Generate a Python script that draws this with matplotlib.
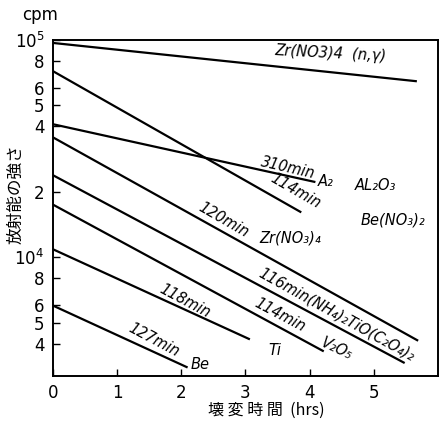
import matplotlib
matplotlib.use('Agg')
from matplotlib import pyplot as plt

# decay lines: start at t=0, end at t_end (hrs)
t_end = [5.67, 3.87, 4.09, 5.69, 5.48, 4.22, 3.07, 2.10]
cpm_start = [97000, 72000, 41000, 35700, 23900, 17500, 10900, 6000]
cpm_end = [64600, 16100, 22200, 4130, 3260, 3690, 4190, 3110]

ytick_vals = [1e5, 8e4, 6e4, 5e4, 4e4, 2e4, 1e4, 8e3, 6e3, 5e3, 4e3]
ytick_labels = ['10$^5$', '8', '6', '5', '4', '2', '10$^4$', '8', '6', '5', '4']
xtick_vals = [0, 1, 2, 3, 4, 5]

# annotations: text, x (hrs), y (cpm), rotation
notes = [
    ('Zr(NO3)4  (n,γ)', 4.33, 86500, -3),
    ('310min', 3.67, 25900, -13),
    ('A₂', 4.25, 22400, 0),
    ('114min', 3.78, 20200, -30),
    ('AL₂O₃', 5.02, 21500, 0),
    ('Be(NO₃)₂', 5.30, 14900, 0),
    ('120min', 2.66, 14800, -30),
    ('Zr(NO₃)₄', 3.70, 12300, 0),
    ('116min(NH₄)₂TiO(C₂O₄)₂', 4.42, 5450, -29),
    ('118min', 2.05, 6300, -28),
    ('Ti', 3.46, 3740, 0),
    ('114min', 3.54, 5450, -28),
    ('V₂O₅', 4.43, 3780, -25),
    ('127min', 1.58, 4150, -28),
    ('Be', 2.30, 3220, 0),
]

plt.rcParams['font.family'] = ['DejaVu Sans', 'Noto Sans CJK JP']

fig = plt.figure(figsize=(4.47, 4.26), dpi=100)
ax = fig.add_axes([0.118, 0.118, 0.862, 0.788])

for te, c0, c1 in zip(t_end, cpm_start, cpm_end):
    ax.plot([0, te], [c0, c1], color='black', lw=1.6, solid_capstyle='butt')

ax.set_yscale('log')
ax.set_ylim(2850, 1e5)
ax.set_xlim(0, 6)
ax.set_yticks(ytick_vals)
ax.set_yticklabels(ytick_labels)
ax.minorticks_off()
ax.set_xticks(xtick_vals)
ax.set_xticklabels([str(v) for v in xtick_vals])
ax.tick_params(direction='in', length=5, width=1, labelsize=12, pad=6)
for s in ax.spines.values():
    s.set_linewidth(1.4)

for txt, x, y, rot in notes:
    ax.text(x, y, txt, rotation=rot, ha='center', va='center',
            fontsize=10.5, style='italic', rotation_mode='anchor')

fig.text(0.089, 0.965, 'cpm', ha='center', va='center', fontsize=12)
fig.text(0.036, 0.545, '放射能の強さ', rotation=90, ha='center', va='center',
         fontsize=12, family=['Noto Sans CJK JP'])
fig.text(0.595, 0.036, '壊 変 時 間  (hrs)', ha='center', va='center',
         fontsize=11.5, family=['Noto Sans CJK JP', 'DejaVu Sans'])

fig.savefig('out.png', dpi=100)
